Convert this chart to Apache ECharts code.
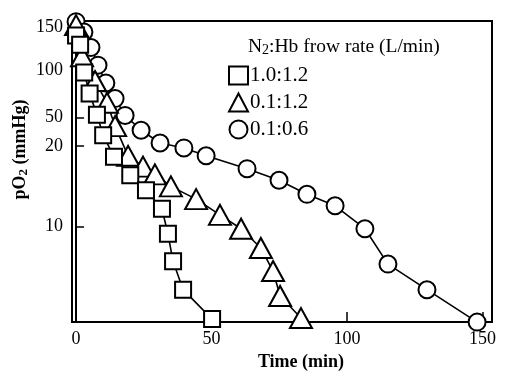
<!DOCTYPE html>
<html><head><meta charset="utf-8">
<script src="https://cdn.jsdelivr.net/npm/echarts@6/dist/echarts.min.js"></script>
<style>html,body{margin:0;padding:0;background:#fff}#c{width:511px;height:376px}</style>
</head><body><div id="c"></div>
<script>
const seriesNames = ['1.0:1.2', '0.1:1.2', '0.1:0.6'];
// Series 1.0:1.2 (squares)
const sqTime = [0, 1.5, 3, 5, 7.7, 10, 14, 20, 25.8, 31.7, 33.9, 35.8, 39.5, 50.2];
const sqPO2  = [167, 146, 97, 71, 52, 38.5, 28, 21.3, 17.1, 13, 9, 6, 3.95, 2.56];
// Series 0.1:1.2 (triangles)
const triTime = [0, 2.2, 7, 11.4, 14.4, 19.2, 24.7, 29.1, 35, 44.3, 53.1, 60.9, 68.2, 72.7, 75.3, 83];
const triPO2  = [195, 123, 85.5, 62, 44, 28.4, 24.2, 21.6, 18.1, 15, 11.9, 9.7, 7.3, 5.2, 3.6, 2.6];
// Series 0.1:0.6 (circles)
const cirTime = [0, 2.9, 5.5, 8.1, 11, 14.4, 18.1, 24, 31, 39.8, 48, 63.1, 74.9, 85.2, 95.6, 106.6, 115.1, 129.5, 148];
const cirPO2  = [205, 176, 140, 108, 83, 66, 51.5, 41.4, 34.3, 31.9, 28.4, 23.5, 19.8, 16.1, 13.6, 9.7, 5.76, 3.95, 2.45];
// Axis ticks (y tick labels as printed in the original figure, placed where they are printed)
const yTickValues = [190, 100, 50, 32.8, 10];
const yTickLabels = ['150', '100', '50', '20', '10'];
const xTickValues = [0, 50, 100, 150];

const FONT = 'Liberation Serif';
const zip = (a, b) => a.map((v, i) => [v, b[i]]);

const chart = echarts.init(document.getElementById('c'), null, {renderer: 'canvas'});
const mk = (name, x, y, symbol, size) => ({
  name, type: 'line', data: zip(x, y), symbol, symbolSize: size, showSymbol: true,
  lineStyle: {color: '#000', width: 1.6},
  itemStyle: {color: '#fff', borderColor: '#000', borderWidth: 2},
  emphasis: {disabled: true}, animation: false, clip: false
});
chart.setOption({
  backgroundColor: '#fff',
  animation: false,
  title: {
    text: '{a|N}{s|2}{a|:Hb frow rate (L/min)}',
    left: 248, top: 37, padding: 0,
    textStyle: {fontWeight: 'normal', rich: {
      a: {fontFamily: FONT, fontSize: 19.5, fontWeight: 'normal', color: '#000'},
      s: {fontFamily: FONT, fontSize: 14, fontWeight: 'normal', color: '#000', padding: [6, 0, 0, 0]}
    }}
  },
  legend: {
    orient: 'vertical', left: 228, top: 65, itemGap: 6,
    itemWidth: 19, itemHeight: 18, padding: 0,
    data: [
      {name: seriesNames[0], icon: 'rect'},
      {name: seriesNames[1], icon: 'triangle'},
      {name: seriesNames[2], icon: 'circle'}
    ],
    itemStyle: {color: '#fff', borderColor: '#000', borderWidth: 2},
    textStyle: {fontFamily: FONT, fontSize: 21, color: '#000', padding: [0, 0, 0, -3]}
  },
  grid: {left: 72, right: 19, top: 21, bottom: 49, show: true, borderColor: '#000', borderWidth: 2, backgroundColor: 'transparent'},
  xAxis: {
    type: 'value', min: -1.5, max: 153.5,
    name: 'Time (min)', nameLocation: 'middle', nameGap: 29,
    nameTextStyle: {fontFamily: FONT, fontSize: 18, fontWeight: 'bold', color: '#000', padding: [0, 0, 0, 38]},
    axisLine: {show: true, lineStyle: {color: '#000', width: 2}},
    axisTick: {show: true, inside: true, length: 10, customValues: xTickValues, lineStyle: {color: '#000', width: 1.5}},
    axisLabel: {customValues: xTickValues, fontFamily: FONT, fontSize: 18, color: '#000', margin: 8},
    splitLine: {show: false}
  },
  yAxis: {
    type: 'log', logBase: 10, min: 2.45, max: 207,
    name: '{b|pO}{s|2}{b| (mmHg)}', nameLocation: 'middle', nameGap: 42, nameRotate: 90,
    nameMoveOverlap: false,
    nameTextStyle: {padding: [0, 0, 0, 44], rich: {
      b: {fontFamily: FONT, fontSize: 18, fontWeight: 'bold', color: '#000'},
      s: {fontFamily: FONT, fontSize: 13, fontWeight: 'bold', color: '#000', padding: [6, 0, 0, 0]}
    }},
    axisLine: {show: true, lineStyle: {color: '#000', width: 2}},
    axisTick: {show: true, inside: true, length: 8, customValues: yTickValues, lineStyle: {color: '#000', width: 1.5}},
    axisLabel: {
      customValues: yTickValues, fontFamily: FONT, fontSize: 18, color: '#000', margin: 9,
      formatter: v => { const i = yTickValues.findIndex(t => Math.abs(t - v) < 1e-6 * Math.max(1, t)); return i >= 0 ? yTickLabels[i] : ''; }
    },
    splitLine: {show: false}, minorTick: {show: false}
  },
  series: [
    mk(seriesNames[2], cirTime, cirPO2, 'circle', 17),
    mk(seriesNames[1], triTime, triPO2, 'triangle', [22, 20]),
    mk(seriesNames[0], sqTime, sqPO2, 'rect', 16)
  ]
});
</script></body></html>
